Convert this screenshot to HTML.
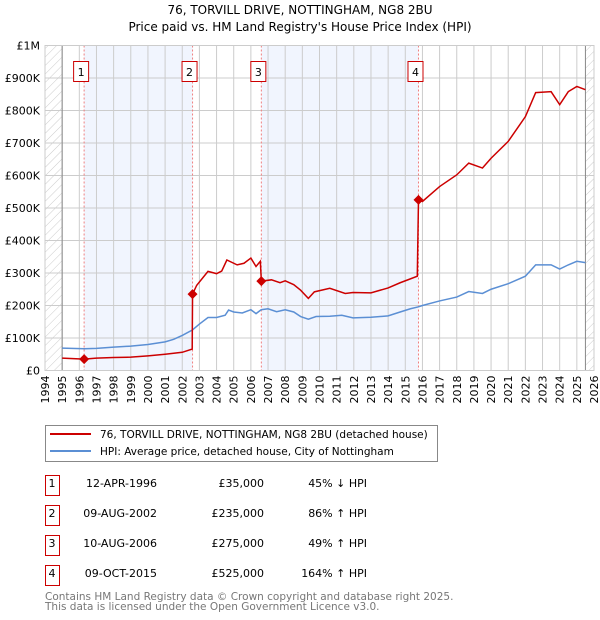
<!DOCTYPE html>
<html><head><meta charset="utf-8"><style>
body{margin:0;background:#fff;}
svg{display:block;font-family:"DejaVu Sans","Liberation Sans",sans-serif;}
</style></head><body>
<svg id="chart" width="600" height="620" viewBox="0 0 600 620" xmlns="http://www.w3.org/2000/svg">
<defs><pattern id="hatch" width="6" height="6" patternUnits="userSpaceOnUse" patternTransform="rotate(45)"><line x1="0" y1="0" x2="0" y2="6" stroke="#ccc" stroke-width="1"/></pattern></defs>
<text x="300" y="14" text-anchor="middle" font-size="12">76, TORVILL DRIVE, NOTTINGHAM, NG8 2BU</text>
<text x="300" y="31" text-anchor="middle" font-size="12">Price paid vs. HM Land Registry's House Price Index (HPI)</text>
<g id="plot"></g>
<g>
<rect x="45.5" y="425.5" width="392" height="36" fill="#fff" stroke="#888"/>
<line x1="50" y1="434" x2="91" y2="434" stroke="#cc0000" stroke-width="2"/>
<text x="100" y="438" font-size="10.5">76, TORVILL DRIVE, NOTTINGHAM, NG8 2BU (detached house)</text>
<line x1="50" y1="451" x2="91" y2="451" stroke="#5b8fd4" stroke-width="2"/>
<text x="100" y="455" font-size="10.5">HPI: Average price, detached house, City of Nottingham</text>
</g>
<g id="table"></g>
<text x="45" y="600" font-size="10.5" fill="#777">Contains HM Land Registry data © Crown copyright and database right 2025.</text>
<text x="45" y="610" font-size="10.5" fill="#777">This data is licensed under the Open Government Licence v3.0.</text>
</svg>
<script>
const yearTicks=[1994,1995,1996,1997,1998,1999,2000,2001,2002,2003,2004,2005,2006,2007,2008,2009,2010,2011,2012,2013,2014,2015,2016,2017,2018,2019,2020,2021,2022,2023,2024,2025,2026];
const valueTicks=[0,100000,200000,300000,400000,500000,600000,700000,800000,900000,1000000];
const valueTickLabels=["£0","£100K","£200K","£300K","£400K","£500K","£600K","£700K","£800K","£900K","£1M"];
const hpiYears=[1995,1996.3,1997,1998,1999,2000,2001,2001.5,2002,2002.6,2003,2003.5,2004,2004.5,2004.7,2005,2005.5,2006,2006.3,2006.6,2007,2007.5,2008,2008.5,2008.9,2009.35,2009.8,2010.6,2011.3,2011.95,2013,2014,2014.7,2015.3,2015.77,2016,2017,2018,2018.7,2019.5,2020,2021,2022,2022.6,2023.5,2024,2024.5,2025,2025.5];
const hpiValues=[69000,67000,68000,72000,75000,80000,88000,96000,108000,125000,143000,163000,163000,170000,186000,180000,177000,187000,175000,187000,190000,181000,187000,180000,166000,158000,166000,167000,170000,162000,164000,168000,180000,190000,196000,200000,214000,226000,243000,237000,250000,267000,290000,325000,325000,312000,325000,336000,332000];
const ppYears=[1995,1996.28,1997,1998,1999,2000,2001,2002,2002.58,2002.6,2002.84,2003.5,2004,2004.3,2004.6,2005.2,2005.6,2006,2006.3,2006.55,2006.61,2007.2,2007.7,2008,2008.5,2008.9,2009.35,2009.7,2010.6,2011.5,2011.95,2013,2014,2014.7,2015.2,2015.7,2015.77,2016,2017,2018,2018.7,2019.5,2020,2021,2022,2022.6,2023.5,2024,2024.5,2025,2025.5];
const ppValues=[38000,35000,38000,40000,41000,45000,50000,56000,66000,235000,262000,305000,298000,306000,340000,325000,330000,346000,320000,336000,275000,279000,270000,276000,264000,247000,222000,242000,253000,237000,240000,239000,254000,270000,280000,290000,525000,520000,566000,602000,638000,623000,653000,705000,781000,855000,858000,818000,858000,874000,864000];
const saleYears=[1996.28,2002.6,2006.61,2015.77];
const salePrices=[35000,235000,275000,525000];
const saleLabels=["1","2","3","4"];
const saleDates=["12-APR-1996","09-AUG-2002","10-AUG-2006","09-OCT-2015"];
const salePriceText=["£35,000","£235,000","£275,000","£525,000"];
const saleHpiText=["45% ↓ HPI","86% ↑ HPI","49% ↑ HPI","164% ↑ HPI"];

const NS="http://www.w3.org/2000/svg";
const X0=45,X1=594,Y0=370.5,Y1=45.5;
const xs=y=>X0+(y-1994)/(2026-1994)*(X1-X0);
const ys=v=>Y0-v/1000000*(Y0-Y1);
const plot=document.getElementById('plot');
function mk(tag,at,parent){const e=document.createElementNS(NS,tag);for(const k in at)e.setAttribute(k,at[k]);(parent||plot).appendChild(e);return e;}

for(const [a,b] of [[0,1],[2,3]]){
 const r=mk('rect',{x:xs(saleYears[a]),y:Y1,width:xs(saleYears[b])-xs(saleYears[a]),height:Y0-Y1,fill:'#f1f5fe'});
 
 
}
const h1=mk('rect',{x:X0,y:Y1,width:xs(1995)-X0,height:Y0-Y1,fill:'url(#hatch)'});


const h2=mk('rect',{x:xs(2025.5),y:Y1,width:X1-xs(2025.5),height:Y0-Y1,fill:'url(#hatch)'});


yearTicks.forEach(y=>{
 const l=mk('line',{x1:xs(y),x2:xs(y),y1:Y1,y2:Y0,stroke:'#ccc','stroke-width':1});
 
 
 const t=mk('text',{x:0,y:0,'font-size':11,'text-anchor':'end',transform:`translate(${xs(y)+4},${Y0+5}) rotate(-90)`});
 t.textContent=y;
 
 
});
valueTicks.forEach((v,i)=>{
 const l=mk('line',{x1:X0,x2:X1,y1:ys(v),y2:ys(v),stroke:'#ccc','stroke-width':1});
 
 
 const t=mk('text',{x:40,y:ys(v)+4,'font-size':11,'text-anchor':'end'});
 t.textContent=valueTickLabels[i];
 
 
});
const d1=mk('line',{x1:xs(1995),x2:xs(1995),y1:Y1,y2:Y0,stroke:'#888'});


const d2=mk('line',{x1:xs(2025.5),x2:xs(2025.5),y1:Y1,y2:Y0,stroke:'#888'});


saleYears.forEach((y,i)=>{
 const l=mk('line',{x1:xs(y),x2:xs(y),y1:Y1,y2:Y0,stroke:'#f08080','stroke-dasharray':'2,2'});
 
 
 const b=mk('rect',{x:xs(y)-10.5,y:61.5,width:15,height:20,fill:'#fff',stroke:'#cc0000'});
 
 
 const t=mk('text',{x:xs(y)-3,y:76,'font-size':11,'text-anchor':'middle'});
 t.textContent=saleLabels[i];
 
 
});
const hp=mk('polyline',{points:hpiYears.map((y,i)=>xs(y)+','+ys(hpiValues[i])).join(' '),fill:'none',stroke:'#5b8fd4','stroke-width':1.5});


const pp=mk('polyline',{points:ppYears.map((y,i)=>xs(y)+','+ys(ppValues[i])).join(' '),fill:'none',stroke:'#cc0000','stroke-width':1.5});


saleYears.forEach((y,i)=>{
 const c=mk('path',{d:`M${xs(y)},${ys(salePrices[i])-5}l5,5l-5,5l-5,-5z`,fill:'#cc0000'});
 
 
});
const fr=mk('rect',{x:X0,y:Y1,width:X1-X0,height:Y0-Y1,fill:'none',stroke:'#ccc'});


const tb=document.getElementById('table');
saleYears.forEach((y,i)=>{
 const by=475.5+i*30;
 const b=mk('rect',{x:45.5,y:by,width:14,height:20,fill:'#fff',stroke:'#cc0000'},tb);
 
 
 const cells=[[52,saleLabels[i],'middle','row-number'],[157,saleDates[i],'end','row-date'],[264,salePriceText[i],'end','row-price'],[367,saleHpiText[i],'end','row-hpi-diff']];
 cells.forEach(c=>{
  const t=mk('text',{x:c[0],y:487+i*30,'font-size':11,'text-anchor':c[2]},tb);
  t.textContent=c[1];
  
  
 });
});
</script>
</body></html>
